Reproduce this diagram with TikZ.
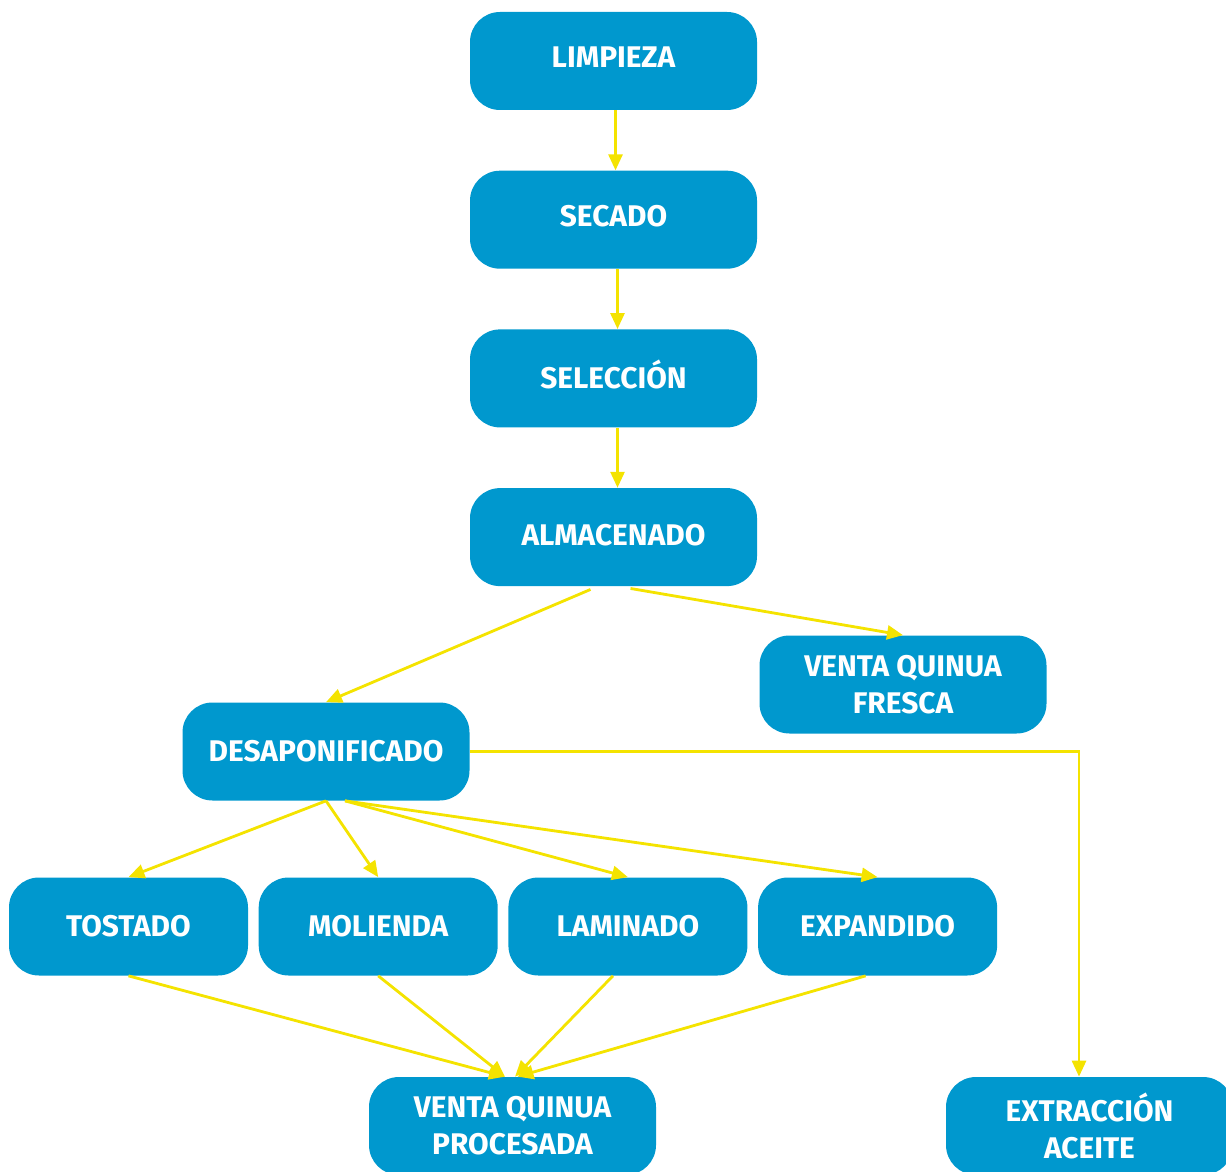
\documentclass[tikz,border=0pt]{standalone}
\usepackage{fontspec}
\setmainfont{Fira Sans}
\usetikzlibrary{positioning, arrows.meta, calc}
\definecolor{boxblue}{HTML}{0098CE}
\definecolor{flowyellow}{HTML}{F4E300}

\begin{document}
\begin{tikzpicture}[
                stage/.style={rectangle, rounded corners=0.6cm, fill=boxblue, text=white,
                    minimum width=5.74cm, minimum height=1.96cm, align=center,
                    font=\fontsize{17}{21}\selectfont\bfseries},
                oneline/.style={stage, text depth=0.16cm},
                product/.style={stage, minimum width=4.78cm},
                flow/.style={-{Triangle[length=0.32cm, width=0.28cm]}, flowyellow, line width=1.6pt},
            ]
            \useasboundingbox (0,0) rectangle (24.52,-23.42);

            % Main column
            \node[oneline] (limp) at (12.27,-1.22) {LIMPIEZA};
            \node[oneline, below=1.2cm of limp] (secado) {SECADO};
            \node[oneline, below=1.2cm of secado] (selec) {SELECCIÓN};
            \node[stage, text depth=0.08cm, below=1.2cm of selec] (almac) {ALMACENADO};

            % Branches
            \node[stage] (fresca) at (18.06,-13.69) {VENTA QUINUA\\FRESCA};
            \node[stage] (desap) at (6.52,-15.03) {DESAPONIFICADO};

            % Products in a row
            \node[product] (tost) at (2.57,-18.53) {TOSTADO};
            \node[product, right=0.2cm of tost] (mol) {MOLIENDA};
            \node[product, right=0.2cm of mol] (lam) {LAMINADO};
            \node[product, right=0.2cm of lam] (exp) {EXPANDIDO};

            % Outputs
            \node[stage] (proc) at (10.25,-22.52) {VENTA QUINUA\\PROCESADA};
            \node[stage] (aceite) at (21.79,-22.52) {EXTRACCIÓN\\ACEITE};

            % Main column connections
            \draw[flow] ([xshift=0.04cm]limp.south) -- ([xshift=0.04cm]secado.north);
            \draw[flow] ([xshift=0.08cm]secado.south) -- ([xshift=0.08cm]selec.north);
            \draw[flow] ([xshift=0.08cm]selec.south) -- ([xshift=0.08cm]almac.north);

            % Branch connections
            \draw[flow] ([xshift=-0.46cm, yshift=-0.06cm]almac.south) -- (desap.north);
            \draw[flow] ([xshift=0.34cm, yshift=-0.04cm]almac.south) -- (fresca.north);
            \draw[flow] (desap.east) -| ([xshift=-0.21cm]aceite.north);

            % Product connections
            \draw[flow] (desap.south) -- (tost.north);
            \draw[flow] (desap.south) -- (mol.north);
            \draw[flow] ([xshift=0.38cm]desap.south) -- (lam.north);
            \draw[flow] ([xshift=0.38cm]desap.south) -- (exp.north);

            % Outputs connections
            \draw[flow] (tost.south) -- ([xshift=-0.15cm]proc.north);
            \draw[flow] (mol.south) -- ([xshift=-0.15cm]proc.north);
            \draw[flow] ([xshift=-0.3cm]lam.south) -- ([xshift=0.05cm]proc.north);
            \draw[flow] ([xshift=-0.24cm]exp.south) -- ([xshift=0.1cm]proc.north);

            \end{tikzpicture}
\end{document}
